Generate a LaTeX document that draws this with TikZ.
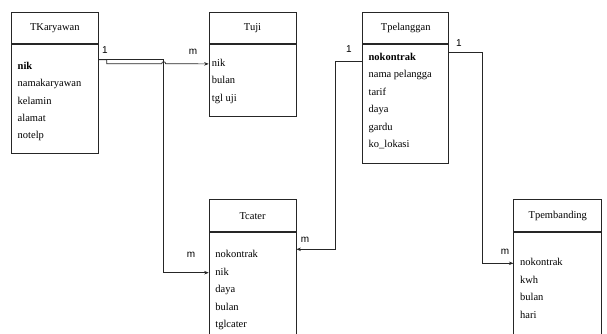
\documentclass[tikz,border=0pt]{standalone}
\usepackage{fontspec}
\setmainfont{Liberation Serif}
\newfontfamily\arialfont{Liberation Sans}
\usetikzlibrary{arrows.meta,positioning,calc}

\begin{document}
\begin{tikzpicture}[x=1pt, y=-1pt, >={Stealth[length=4.5pt,width=3.5pt]},
    tbl/.style={rectangle, draw=black!85, line width=0.7pt, inner sep=0pt, minimum width=87pt},
    head/.style={tbl, minimum height=31pt, font=\fontsize{10.5}{12}\selectfont},
    body/.style={tbl, anchor=north},
    fld/.style={anchor=north west, inner xsep=6.5pt, inner ysep=4pt, text height=7pt, text depth=2pt, font=\fontsize{10.5}{12}\selectfont},
    nxt/.style={below=0pt of #1.south west, anchor=north west},
    card/.style={font=\arialfont\fontsize{10}{12}\selectfont, inner sep=0pt},
    link/.style={->, draw=black!85, line width=0.7pt}]
    \useasboundingbox (0,0) rectangle (607,334);
    \clip (0,0) rectangle (607,334);

    % TKaryawan
    \node [head, anchor=north west] (kar) at (11,12) {TKaryawan};
    \node [body, minimum height=109pt, below=0pt of kar] (karb) {};
    \node [fld, below right=14.5pt and 0pt of karb.north west] (karnik) {\textbf{nik}};
    \node [fld, nxt=karnik] (karnama) {namakaryawan};
    \node [fld, nxt=karnama] (karkel) {kelamin};
    \node [fld, nxt=karkel] (karalm) {alamat};
    \node [fld, nxt=karalm] (kartlp) {notelp};

    % Tuji
    \node [head, right=110pt of kar] (tuji) {Tuji};
    \node [body, minimum height=72pt, below=0pt of tuji] (tujib) {};
    \node [fld, inner xsep=3pt, below right=11.5pt and 0pt of tujib.north west] (tujinik) {nik};
    \node [fld, inner xsep=3pt, nxt=tujinik] (tujibln) {bulan};
    \node [fld, inner xsep=3pt, nxt=tujibln] (tujitgl) {tgl uji};

    % Tpelanggan
    \node [head, minimum width=86pt, right=66pt of tuji] (pel) {Tpelanggan};
    \node [body, minimum width=86pt, minimum height=119pt, below=0pt of pel] (pelb) {};
    \node [fld, inner xsep=6pt, below right=5.5pt and 0pt of pelb.north west] (pelnok) {\textbf{nokontrak}};
    \node [fld, inner xsep=6pt, nxt=pelnok] (pelnama) {nama pelangga};
    \node [fld, inner xsep=6pt, nxt=pelnama] (peltrf) {tarif};
    \node [fld, inner xsep=6pt, nxt=peltrf] (peldaya) {daya};
    \node [fld, inner xsep=6pt, nxt=peldaya] (pelgrd) {gardu};
    \node [fld, inner xsep=6pt, nxt=pelgrd] (pellok) {ko\_lokasi};

    % Tcater
    \node [head, minimum height=32pt, below=83pt of tujib] (cat) {Tcater};
    \node [body, minimum height=120pt, below=0pt of cat] (catb) {};
    \node [fld, below right=14.5pt and 0pt of catb.north west] (catnok) {nokontrak};
    \node [fld, nxt=catnok] (catnik) {nik};
    \node [fld, nxt=catnik] (catdaya) {daya};
    \node [fld, nxt=catdaya] (catbln) {bulan};
    \node [fld, nxt=catbln] (cattgl) {tglcater};

    % Tpembanding
    \node [head, minimum width=88pt, minimum height=32pt, right=217pt of cat] (pem) {Tpembanding};
    \node [body, minimum width=88pt, minimum height=120pt, below=0pt of pem] (pemb) {};
    \node [fld, below right=22.5pt and 0pt of pemb.north west] (pemnok) {nokontrak};
    \node [fld, nxt=pemnok] (pemkwh) {kwh};
    \node [fld, nxt=pemkwh] (pembln) {bulan};
    \node [fld, nxt=pembln] (pemhari) {hari};

    % relations
    \coordinate (karout) at ($(karb.north east)+(0,16)$);
    \draw [link] (karout) -- ++(8,0) -- ++(0,4) -- ++(55,0) arc (180:360:2) -- (tujinik.west);
    \draw [link] (karout) -- ++(65,0) |- (catnik.west);
    \draw [link] ($(pelb.west |- pelnok)+(0,3)$) -- ++(-27,0) |- ($(catb.east |- catnok)+(0,-6)$);
    \draw [link] ($(pelb.north east)+(0,9)$) -- ++(33,0) |- (pemnok.west);

    \node [card] (k1) at (105,50) {1};
    \node [card] (km) at (193,52) {m};
    \node [card] (cm) at (191,255) {m};
    \node [card] (p1) at (349,49) {1};
    \node [card] (pm) at (305,240) {m};
    \node [card] (q1) at (459,43) {1};
    \node [card] (qm) at (505,252) {m};
\end{tikzpicture}
\end{document}
